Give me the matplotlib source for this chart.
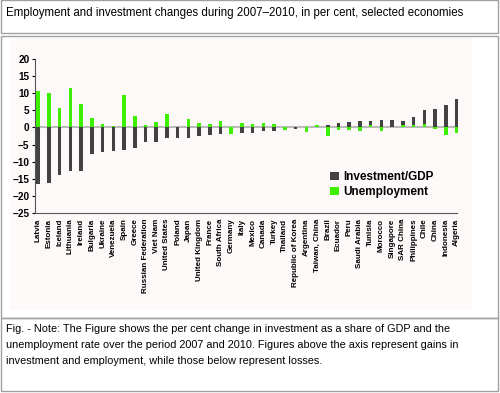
import numpy as np
import matplotlib
matplotlib.use("Agg")
import matplotlib.pyplot as plt
from matplotlib.patches import Rectangle

# countries, in chart order
countries = ["Latvia", "Estonia", "Iceland", "Lithuania", "Ireland", "Bulgaria", "Ukraine",
             "Venezuela", "Spain", "Greece", "Russian Federation", "Viet Nam", "United States",
             "Poland", "Japan", "United Kingdom", "France", "South Africa", "Germany", "Italy",
             "Mexico", "Canada", "Turkey", "Thailand", "Republic of Korea", "Argentina",
             "Taiwan, China", "Brazil", "Ecuador", "Peru", "Saudi Arabia", "Tunisia", "Morocco",
             "Singapore", "SAR China", "Philippines", "Chile", "China", "Indonesia", "Algeria"]

# per cent change
investment = [-16.6, -16.3, -13.8, -12.6, -12.6, -7.7, -7.3, -7.0, -6.6, -6.0, -4.3, -4.2, -3.2,
              -3.2, -3.0, -2.6, -2.2, -1.8, -1.0, -1.6, -1.6, -0.9, -1.0, -0.3, -0.4, -0.3,
              0.1, 0.8, 1.4, 1.6, 1.9, 2.0, 2.2, 2.2, 2.0, 3.1, 5.0, 5.4, 6.7, 8.4]
unemployment = [10.7, 10.2, 5.8, 11.5, 6.9, 2.7, 1.0, 0.3, 9.6, 3.3, 0.8, 1.7, 4.0,
                0.0, 2.4, 1.3, 1.1, 1.9, -1.8, 1.3, 1.1, 1.3, 0.9, -0.8, 0.2, -1.2,
                0.6, -2.5, -0.7, -0.7, -0.9, 0.6, -1.0, 0.2, 0.7, 0.8, 1.1, -0.6, -2.1, -1.5]

title = "Employment and investment changes during 2007\u20132010, in per cent, selected economies"
note = ("Fig. - Note: The Figure shows the per cent change in investment as a share of GDP and the\n"
        "unemployment rate over the period 2007 and 2010. Figures above the axis represent gains in\n"
        "investment and employment, while those below represent losses.")

W, H = 500, 393
fig = plt.figure(figsize=(W / 100, H / 100), dpi=100)


def box(x0, y0, x1, y1, **kw):
    # rectangle in pixel coords, y measured from the top
    r = Rectangle((x0 / W, 1 - y1 / H), (x1 - x0) / W, (y1 - y0) / H,
                  transform=fig.transFigure, **kw)
    fig.add_artist(r)


box(1, 0.5, 498, 33, fill=False, edgecolor="#a0a0a0", lw=1)
box(1, 36, 498, 318, fill=False, edgecolor="#a0a0a0", lw=1)
box(10, 38, 472, 310, facecolor="#fdf9f8", edgecolor="none", zorder=0)
box(1, 318, 498, 391, fill=False, edgecolor="#a0a0a0", lw=1)

fig.text(6 / W, 1 - 13 / H, title, fontsize=8.3, family="Liberation Sans", va="center")
fig.text(6 / W, 1 - 345 / H, note, fontsize=7.8, family="Liberation Sans", va="center",
         linespacing=1.7)

ax = fig.add_axes([35 / W, 1 - 213 / H, 422 / W, 154 / H])
ax.patch.set_alpha(0)
x = np.arange(len(countries))
ax.axhline(0, color="#bbbbbb", lw=1.5, zorder=1)
ax.bar(x, investment, width=0.33, color="#424242", label="Investment/GDP", zorder=2, clip_on=False)
ax.bar(x, unemployment, width=0.33, color="#3cf000", label="Unemployment", zorder=3, clip_on=False)

ax.set_ylim(-25, 20)
ax.set_yticks(range(-25, 21, 5))
ax.set_xlim(-0.3, 39.05)
ax.set_xticks(x)
ax.set_xticklabels(countries, rotation=90, fontsize=5.8, fontweight="bold", family="Liberation Sans")
ax.tick_params(axis="x", length=0, pad=4)
ax.tick_params(axis="y", length=2.5, width=0.8, labelsize=7.2, pad=1.5)
for t in ax.get_yticklabels():
    t.set_fontweight("bold")
    t.set_family("Liberation Sans")
ax.spines["top"].set_visible(False)
ax.spines["right"].set_visible(False)
ax.spines["left"].set_color("#555555")
ax.spines["bottom"].set_color("#555555")

leg = ax.legend(loc="upper left", bbox_to_anchor=(0.675, 0.34), frameon=False,
                prop={"family": "Liberation Sans", "weight": "bold", "size": 8.5},
                handlelength=0.7, handleheight=0.7, handletextpad=0.4, labelspacing=0.25)

fig.savefig("out.png", dpi=100)
